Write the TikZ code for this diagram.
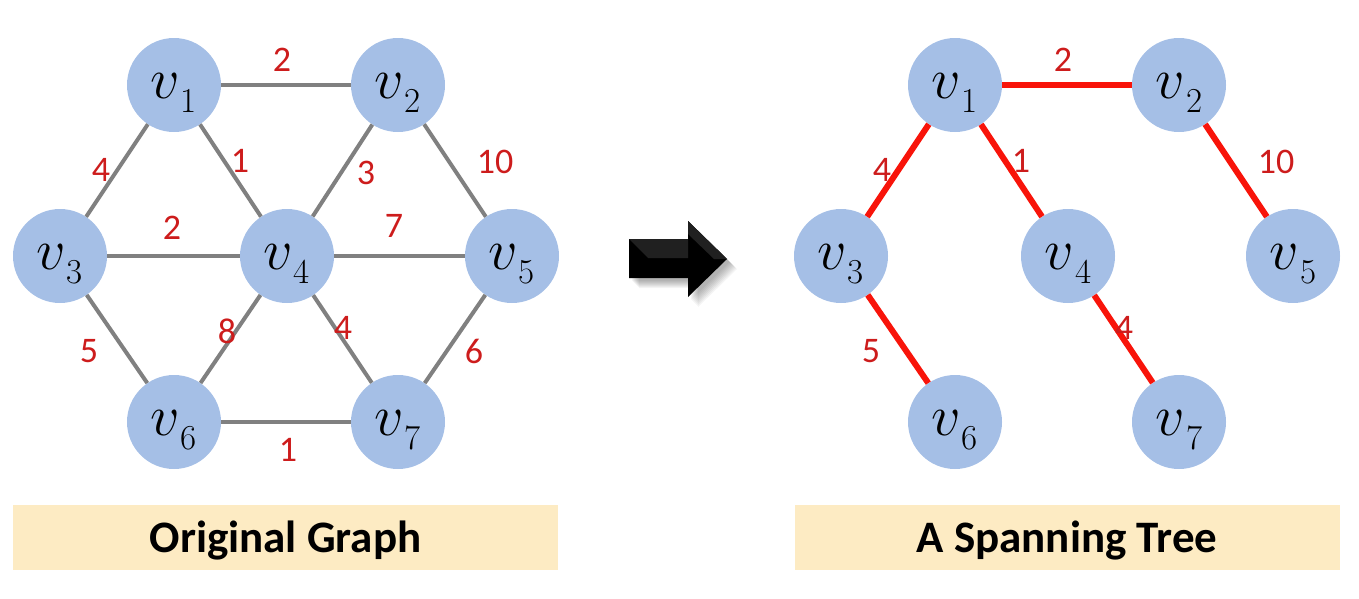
\RequirePackage{fix-cm}
\documentclass[tikz,border=0pt]{standalone}
\usepackage{fontspec}
\setsansfont{Carlito}
\definecolor{nodeblue}{RGB}{165,191,230}
\definecolor{edgegray}{RGB}{128,128,128}
\definecolor{treered}{RGB}{248,20,10}
\definecolor{wred}{RGB}{205,28,28}
\definecolor{barfill}{RGB}{253,235,195}
\definecolor{facetgray}{RGB}{32,32,32}
\newcommand{\vlab}[1]{{\fontsize{58}{60}\selectfont$v$}\kern0.5pt\raisebox{-14pt}{\fontsize{35}{35}\selectfont #1}}
\newcommand{\arrowpath}{(629,239) -- (688,239) -- (688,221) -- (727,259) -- (688,297) -- (688,278) -- (629,278) -- cycle}
\tikzset{
  vert/.style={circle, fill=nodeblue, minimum size=94pt, inner sep=0pt, text height=40pt, text depth=14pt},
  gedge/.style={draw=edgegray, line width=4pt},
  redge/.style={draw=treered, line width=6pt},
  wt/.style={text=wred, font=\sffamily\fontsize{36}{36}\selectfont, inner sep=0pt},
  bar/.style={fill=barfill, minimum width=545pt, minimum height=65pt, inner sep=0pt,
    font=\sffamily\bfseries\fontsize{45}{45}\selectfont, text height=29pt, text depth=0pt},
}
\begin{document}
\begin{tikzpicture}[x=1pt,y=-1pt]
\useasboundingbox (0,0) rectangle (1359,598);
% ---------- original graph ----------
\node[vert] (a1) at (174,85) {\vlab{1}};
\node[vert] (a2) at (398,85) {\vlab{2}};
\node[vert] (a3) at (60,256) {\vlab{3}};
\node[vert] (a4) at (287,256) {\vlab{4}};
\node[vert] (a5) at (512,256) {\vlab{5}};
\node[vert] (a6) at (174,422) {\vlab{6}};
\node[vert] (a7) at (398,422) {\vlab{7}};
\draw[gedge] (a1) -- (a2);
\draw[gedge] (a1) -- (a3);
\draw[gedge] (a1) -- (a4);
\draw[gedge] (a2) -- (a4);
\draw[gedge] (a2) -- (a5);
\draw[gedge] (a3) -- (a4);
\draw[gedge] (a4) -- (a5);
\draw[gedge] (a3) -- (a6);
\draw[gedge] (a4) -- (a6);
\draw[gedge] (a4) -- (a7);
\draw[gedge] (a5) -- (a7);
\draw[gedge] (a6) -- (a7);
\node[wt] (w12) at (282,60) {2};
\node[wt] (w13) at (101,170) {4};
\node[wt] (w14) at (240,161) {1};
\node[wt] (w24) at (366,173) {3};
\node[wt] (w25) at (495,162) {10};
\node[wt] (w34) at (172,228) {2};
\node[wt] (w45) at (394,226) {7};
\node[wt] (w36) at (89,351) {5};
\node[wt] (w46) at (227,331) {8};
\node[wt] (w47) at (343,328) {4};
\node[wt] (w57) at (474,351) {6};
\node[wt] (w67) at (288,450) {1};
% ---------- arrow ----------
\foreach \s in {3,4,...,10}{
  \fill[black, opacity=0.045, shift={(\s,\s)}] \arrowpath;
}
\fill[black] \arrowpath;
\fill[facetgray] (629,239) -- (688,239) -- (688,258) -- (648,258) -- cycle;
\fill[facetgray] (688,221) -- (727,259) -- (714,259) -- (688,234) -- cycle;
% ---------- spanning tree ----------
\node[vert] (b1) at (955,85) {\vlab{1}};
\node[vert] (b2) at (1179,85) {\vlab{2}};
\node[vert] (b3) at (841,256) {\vlab{3}};
\node[vert] (b4) at (1068,256) {\vlab{4}};
\node[vert] (b5) at (1293,256) {\vlab{5}};
\node[vert] (b6) at (955,422) {\vlab{6}};
\node[vert] (b7) at (1179,422) {\vlab{7}};
\draw[redge] (b1) -- (b2);
\draw[redge] (b1) -- (b3);
\draw[redge] (b1) -- (b4);
\draw[redge] (b2) -- (b5);
\draw[redge] (b3) -- (b6);
\draw[redge] (b4) -- (b7);
\node[wt] (t12) at (1063,60) {2};
\node[wt] (t13) at (882,170) {4};
\node[wt] (t14) at (1021,161) {1};
\node[wt] (t25) at (1276,162) {10};
\node[wt] (t36) at (871,351) {5};
\node[wt] (t47) at (1124,328) {4};
% ---------- captions ----------
\node[bar] (capL) at (285.5,537.5) {Original Graph};
\node[bar] (capR) at (1067,537.5) {A Spanning Tree};
\end{tikzpicture}
\end{document}
